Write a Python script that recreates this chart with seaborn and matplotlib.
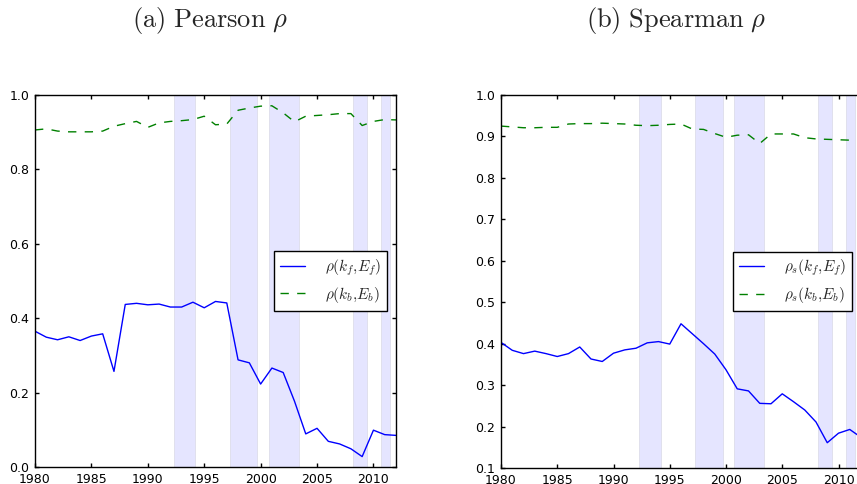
import numpy as np
import pandas as pd
import seaborn as sns
import matplotlib.pyplot as plt
import matplotlib as mpl

years = list(range(1980, 2013))

pearson_f = [0.365, 0.349, 0.342, 0.350, 0.340, 0.352, 0.358, 0.257, 0.437, 0.440,
             0.436, 0.438, 0.430, 0.430, 0.443, 0.428, 0.445, 0.441, 0.288, 0.280,
             0.223, 0.266, 0.254, 0.177, 0.089, 0.104, 0.069, 0.062, 0.049, 0.028,
             0.099, 0.087, 0.085]
pearson_b = [0.906, 0.909, 0.903, 0.901, 0.901, 0.901, 0.903, 0.916, 0.923, 0.929,
             0.913, 0.925, 0.929, 0.931, 0.934, 0.943, 0.920, 0.922, 0.959, 0.965,
             0.970, 0.971, 0.952, 0.928, 0.943, 0.945, 0.947, 0.950, 0.950, 0.918,
             0.929, 0.934, 0.933]
spearman_f = [0.403, 0.384, 0.376, 0.382, 0.376, 0.369, 0.376, 0.392, 0.363, 0.357,
              0.377, 0.385, 0.389, 0.402, 0.405, 0.399, 0.448, 0.424, 0.400, 0.375,
              0.337, 0.291, 0.286, 0.256, 0.255, 0.279, 0.260, 0.240, 0.211, 0.161,
              0.184, 0.193, 0.174]
spearman_b = [0.925, 0.923, 0.921, 0.921, 0.922, 0.922, 0.930, 0.931, 0.931, 0.932,
              0.931, 0.930, 0.927, 0.926, 0.927, 0.929, 0.930, 0.918, 0.917, 0.907,
              0.898, 0.903, 0.904, 0.883, 0.906, 0.906, 0.906, 0.897, 0.894, 0.893,
              0.892, 0.891, 0.888]

# shaded periods
span_start = [1992.3, 1997.25, 2000.7, 2008.2, 2010.7]
span_end = [1994.2, 1999.7, 2003.4, 2009.4, 2011.5]

sns.set_style("ticks", {"xtick.direction": "in", "ytick.direction": "in",
                        "xtick.top": True, "ytick.right": True,
                        "axes.edgecolor": "black"})
mpl.rcParams['mathtext.fontset'] = 'cm'
mpl.rcParams['axes.linewidth'] = 1.0
mpl.rcParams['xtick.major.size'] = 3
mpl.rcParams['ytick.major.size'] = 3
mpl.rcParams['xtick.major.pad'] = 4
mpl.rcParams['ytick.major.pad'] = 4
mpl.rcParams['xtick.color'] = 'black'
mpl.rcParams['ytick.color'] = 'black'

fig = plt.figure(figsize=(8.57, 4.84), dpi=100)
ax1 = fig.add_axes([35/857, 17/484, 361/857, 372/484])
ax2 = fig.add_axes([501/857, 16/484, 360/857, 373/484])

panels = [
    (ax1, pearson_f, pearson_b, r'$\rho(k_f{,}E_f)$', r'$\rho(k_b{,}E_b)$', (0, 1.0),
     np.arange(0, 1.01, 0.2)),
    (ax2, spearman_f, spearman_b, r'$\rho_s(k_f{,}E_f)$', r'$\rho_s(k_b{,}E_b)$', (0.1, 1.0),
     np.arange(0.1, 1.01, 0.1)),
]

for ax, fwd, bwd, lab_f, lab_b, ylim, yticks in panels:
    df = pd.DataFrame({'year': years, 'fwd': fwd, 'bwd': bwd})
    for a, b in zip(span_start, span_end):
        ax.axvspan(a, b, facecolor='b', edgecolor='k', alpha=0.1, lw=0.5)
    sns.lineplot(x='year', y='fwd', data=df, ax=ax, color='b', lw=1, label=lab_f)
    sns.lineplot(x='year', y='bwd', data=df, ax=ax, color='g', lw=1, ls='--',
                 label=lab_b)
    ax.lines[1].set_dashes((6, 6))
    ax.set_xlim(1980, 2012)
    ax.set_ylim(*ylim)
    ax.set_xticks(range(1980, 2011, 5))
    ax.set_yticks(yticks)
    ax.set_yticklabels(['%.1f' % v for v in yticks])
    ax.tick_params(labelsize=9, width=1)
    ax.set_xlabel('')
    ax.set_ylabel('')
    leg = ax.legend(loc='center right', fancybox=False, framealpha=1, fontsize=11,
                    handlelength=1.6, handletextpad=1.3, borderaxespad=0.6,
                    borderpad=0.4, labelspacing=0.45)
    leg.get_frame().set_edgecolor('black')
    leg.get_frame().set_linewidth(1)

fig.text(210/857, 1 - 20/484, r'$\mathrm{(a)\ Pearson}\ \rho$', fontsize=19,
         ha='center', va='center')
fig.text(676/857, 1 - 20/484, r'$\mathrm{(b)\ Spearman}\ \rho$', fontsize=19,
         ha='center', va='center')

plt.savefig('out.png', dpi=100)
